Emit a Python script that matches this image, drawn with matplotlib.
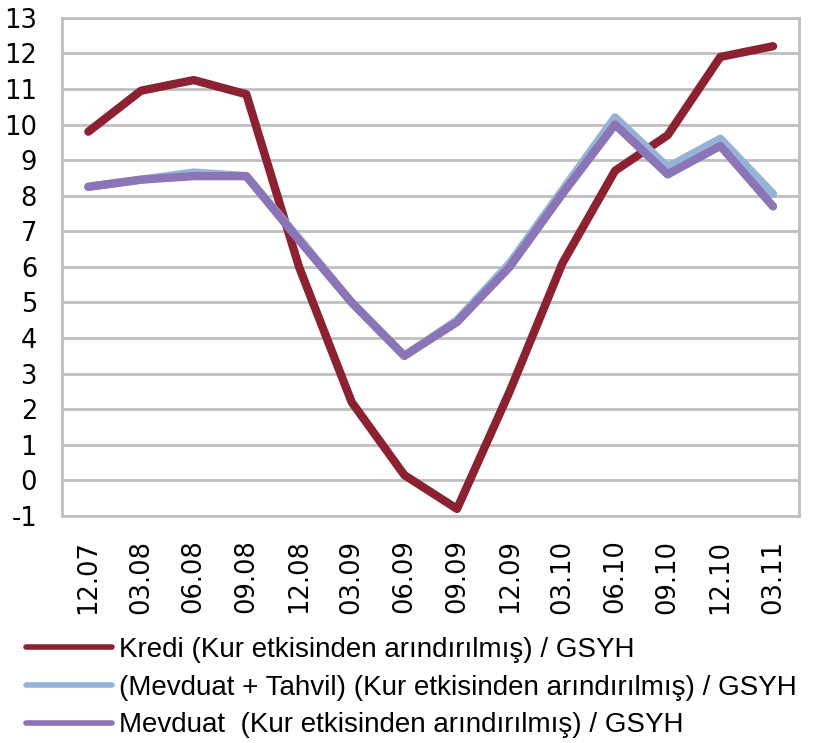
import matplotlib
matplotlib.use("Agg")
import matplotlib.pyplot as plt
from matplotlib import font_manager
from matplotlib.lines import Line2D

plt.rcParams["font.family"] = "DejaVu Sans"
plt.rcParams["axes.unicode_minus"] = False

# quarters (month.year)
quarters = ["12.07", "03.08", "06.08", "09.08", "12.08", "03.09", "06.09",
            "09.09", "12.09", "03.10", "06.10", "09.10", "12.10", "03.11"]

kredi = [9.8, 10.95, 11.25, 10.85, 6.0, 2.2, 0.15,
         -0.8, 2.5, 6.1, 8.7, 9.7, 11.9, 12.2]
mevduat_tahvil = [8.25, 8.45, 8.65, 8.55, 6.8, 5.0, 3.5,
                  4.5, 6.1, 8.15, 10.2, 8.8, 9.6, 8.05]
mevduat = [8.25, 8.45, 8.55, 8.55, 6.75, 5.0, 3.5,
           4.45, 6.0, 8.05, 10.0, 8.6, 9.4, 7.7]

labels = ["Kredi (Kur etkisinden arındırılmış) / GSYH",
          "(Mevduat + Tahvil) (Kur etkisinden arındırılmış) / GSYH",
          "Mevduat  (Kur etkisinden arındırılmış) / GSYH"]
colors = ["#8b2131", "#95b3d7", "#8b75b6"]

# pick a narrow face for the legend if one is installed
installed = {f.name for f in font_manager.fontManager.ttflist}
legend_font = "DejaVu Sans"
for name in ["DejaVu Sans Condensed", "Liberation Sans Narrow", "Liberation Sans"]:
    if name in installed:
        legend_font = name
        break

fig = plt.figure(figsize=(8.17, 7.43), dpi=100)
ax = fig.add_axes([0.0759, 0.3055, 0.9025, 0.6706])

x = list(range(len(quarters)))
for series, c in zip([kredi, mevduat_tahvil, mevduat], colors):
    ax.plot(x, series, color=c, lw=6, solid_capstyle="round",
            solid_joinstyle="round", zorder=3)

ax.set_xlim(-0.5, len(quarters) - 0.5)
ax.set_ylim(-1, 13)
ax.set_yticks(range(-1, 14))
ax.set_xticks(x)
ax.set_xticklabels(quarters, rotation=90)
ax.tick_params(axis="both", length=0, labelsize=18.5, colors="black")
ax.tick_params(axis="y", pad=18)
ax.tick_params(axis="x", pad=17)

ax.grid(axis="y", color="#bfbfbf", lw=2, zorder=0)
for s in ax.spines.values():
    s.set_color("#bfbfbf")
    s.set_linewidth(2)

handles = [Line2D([0], [0], color=c, lw=4, solid_capstyle="round") for c in colors]
fig.legend(handles, labels, loc="upper left", bbox_to_anchor=(0.032, 0.1427),
           frameon=False, prop={"family": legend_font, "size": 20},
           handlelength=3.1, handletextpad=0.25, labelspacing=0.42,
           borderaxespad=0, borderpad=0)

fig.savefig("out.png", dpi=100)
